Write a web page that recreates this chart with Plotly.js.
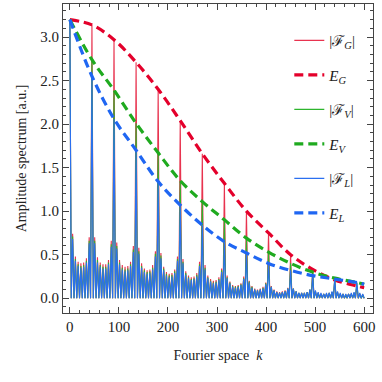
<!DOCTYPE html>
<html lang="en">
<head>
  <meta charset="UTF-8">
  <title>Amplitude spectrum</title>
  <script src="https://cdn.plot.ly/plotly-3.0.1.min.js"></script>
  <style>
    body { margin: 0; background: white; }
    #plot { width: 382px; height: 382px; }
  </style>
</head>
<body>
  <div id="plot"></div>
  <script>
  // Positions of the main peaks in k
  const peakK = [0, 45, 90, 135, 180, 225, 270, 315, 360, 405, 450, 495, 540, 585];

  // Envelope samples (k, value)
  const envK = [0, 45, 90, 135, 180, 225, 270, 315, 360, 405, 450, 495, 540, 585, 600];
  const envG = [3.20, 3.14, 2.97, 2.71, 2.40, 2.04, 1.66, 1.32, 1.00, 0.75, 0.50, 0.33, 0.21, 0.14, 0.12];
  const envV = [3.20, 2.74, 2.39, 2.01, 1.67, 1.35, 1.11, 0.90, 0.69, 0.53, 0.40, 0.30, 0.23, 0.18, 0.16];
  const envL = [3.20, 2.55, 2.06, 1.70, 1.34, 1.07, 0.84, 0.65, 0.52, 0.40, 0.32, 0.26, 0.22, 0.18, 0.16];

  // Main peak heights of each spectrum
  const peaksG = [3.20, 3.14, 2.97, 2.71, 2.40, 2.04, 1.66, 1.32, 1.00, 0.75, 0.50, 0.33, 0.21, 0.14];
  const peaksV = [3.20, 2.74, 2.39, 2.01, 1.67, 1.35, 1.11, 0.90, 0.69, 0.53, 0.40, 0.30, 0.23, 0.18];
  const peaksL = [3.20, 2.55, 2.06, 1.70, 1.34, 1.07, 0.84, 0.65, 0.52, 0.40, 0.32, 0.26, 0.22, 0.18];

  // Side-lobe heights between consecutive main peaks (7 per gap)
  const lobesG = [
    [0.74, 0.48, 0.42, 0.40, 0.41, 0.46, 0.70],
    [0.70, 0.47, 0.41, 0.39, 0.39, 0.44, 0.66],
    [0.64, 0.44, 0.38, 0.36, 0.37, 0.42, 0.60],
    [0.58, 0.40, 0.34, 0.32, 0.33, 0.38, 0.54],
    [0.52, 0.36, 0.30, 0.28, 0.29, 0.33, 0.48],
    [0.45, 0.31, 0.26, 0.24, 0.25, 0.29, 0.42],
    [0.38, 0.26, 0.22, 0.20, 0.21, 0.24, 0.34],
    [0.26, 0.19, 0.15, 0.14, 0.15, 0.17, 0.25],
    [0.20, 0.14, 0.11, 0.10, 0.11, 0.13, 0.18],
    [0.14, 0.10, 0.08, 0.07, 0.08, 0.09, 0.12],
    [0.11, 0.08, 0.06, 0.06, 0.06, 0.07, 0.10],
    [0.08, 0.06, 0.05, 0.05, 0.05, 0.06, 0.07],
    [0.07, 0.05, 0.05, 0.04, 0.05, 0.05, 0.06]
  ];
  const lobesV = [
    [0.71, 0.45, 0.39, 0.37, 0.38, 0.43, 0.66],
    [0.66, 0.44, 0.38, 0.36, 0.36, 0.41, 0.62],
    [0.60, 0.41, 0.35, 0.33, 0.34, 0.39, 0.56],
    [0.54, 0.37, 0.32, 0.30, 0.31, 0.35, 0.51],
    [0.49, 0.34, 0.28, 0.26, 0.27, 0.31, 0.45],
    [0.42, 0.29, 0.24, 0.22, 0.23, 0.27, 0.39],
    [0.35, 0.24, 0.20, 0.18, 0.19, 0.22, 0.32],
    [0.24, 0.18, 0.14, 0.13, 0.14, 0.16, 0.23],
    [0.19, 0.13, 0.10, 0.09, 0.10, 0.12, 0.17],
    [0.13, 0.09, 0.07, 0.06, 0.07, 0.08, 0.11],
    [0.11, 0.08, 0.06, 0.06, 0.06, 0.07, 0.10],
    [0.08, 0.06, 0.05, 0.05, 0.05, 0.06, 0.07],
    [0.07, 0.05, 0.05, 0.04, 0.05, 0.05, 0.06]
  ];
  const lobesL = [
    [0.68, 0.43, 0.37, 0.35, 0.36, 0.41, 0.63],
    [0.63, 0.41, 0.36, 0.34, 0.34, 0.39, 0.59],
    [0.57, 0.39, 0.33, 0.31, 0.32, 0.37, 0.53],
    [0.51, 0.35, 0.30, 0.28, 0.29, 0.33, 0.48],
    [0.46, 0.32, 0.26, 0.24, 0.25, 0.29, 0.43],
    [0.40, 0.27, 0.23, 0.21, 0.22, 0.25, 0.37],
    [0.33, 0.23, 0.19, 0.17, 0.18, 0.21, 0.30],
    [0.23, 0.17, 0.13, 0.12, 0.13, 0.15, 0.22],
    [0.18, 0.12, 0.10, 0.09, 0.10, 0.11, 0.16],
    [0.13, 0.09, 0.07, 0.06, 0.07, 0.08, 0.11],
    [0.11, 0.08, 0.06, 0.06, 0.06, 0.07, 0.10],
    [0.09, 0.07, 0.06, 0.05, 0.06, 0.06, 0.08],
    [0.08, 0.06, 0.05, 0.05, 0.05, 0.06, 0.07]
  ];
  // Lobes after the last main peak, up to k = 600
  const tailG = [0.05, 0.04];
  const tailV = [0.05, 0.04];
  const tailL = [0.06, 0.05];

  // Turn peaks + lobes into a polyline (zeros between lobes)
  function spectrum(peaks, lobes, tail) {
    const x = [], y = [];
    for (let i = 0; i < peakK.length; i++) {
      x.push(peakK[i]); y.push(peaks[i]);
      const seg = i < lobes.length ? lobes[i] : tail;
      const step = i < lobes.length ? (peakK[i + 1] - peakK[i]) / (seg.length + 1) : (600 - peakK[i]) / (seg.length + 0.5);
      x.push(peakK[i] + step * 0.5); y.push(0);
      seg.forEach((v, j) => {
        x.push(peakK[i] + step * (j + 1)); y.push(v);
        x.push(peakK[i] + step * (j + 1.5)); y.push(0);
      });
    }
    return { x, y };
  }

  const sG = spectrum(peaksG, lobesG, tailG);
  const sV = spectrum(peaksV, lobesV, tailV);
  const sL = spectrum(peaksL, lobesL, tailL);

  const red = '#e4002b', green = '#1faa1f', blue = '#1f66f2';
  const dash = '9px,5px';

  const data = [
    { x: sG.x, y: sG.y, mode: 'lines', name: '|ℱ<sub><i>G</i></sub>|', legendgroup: 'a',
      line: { color: '#e8334f', width: 1.1 } },
    { x: envK, y: envG, mode: 'lines', name: '<i>E</i><sub><i>G</i></sub>', legendgroup: 'b',
      line: { color: red, width: 3.2, dash: dash, shape: 'spline' } },
    { x: sV.x, y: sV.y, mode: 'lines', name: '|ℱ<sub><i>V</i></sub>|', legendgroup: 'c',
      line: { color: '#2db52d', width: 1.1 } },
    { x: envK, y: envV, mode: 'lines', name: '<i>E</i><sub><i>V</i></sub>', legendgroup: 'd',
      line: { color: green, width: 3.2, dash: dash, shape: 'spline' } },
    { x: sL.x, y: sL.y, mode: 'lines', name: '|ℱ<sub><i>L</i></sub>|', legendgroup: 'e',
      line: { color: '#2b6ff0', width: 1.1 } },
    { x: envK, y: envL, mode: 'lines', name: '<i>E</i><sub><i>L</i></sub>', legendgroup: 'f',
      line: { color: blue, width: 3.2, dash: dash, shape: 'spline' } }
  ];

  const axisCommon = {
    showline: true, linecolor: '#444', linewidth: 1, mirror: 'allticks',
    ticks: 'inside', ticklen: 6, tickcolor: '#444', tickwidth: 1,
    showgrid: false, zeroline: false,
    tickfont: { family: 'Liberation Serif', size: 15, color: '#222' }
  };

  const layout = {
    width: 382, height: 382,
    margin: { l: 63, r: 9, t: 4, b: 69 },
    paper_bgcolor: 'white', plot_bgcolor: 'white',
    font: { family: 'Liberation Serif', color: '#222' },
    showlegend: true,
    legend: {
      x: 0.73, y: 0.935, xanchor: 'left', yanchor: 'top',
      bgcolor: 'rgba(0,0,0,0)', tracegroupgap: 12,
      font: { family: 'Liberation Serif', size: 15, color: '#222' }
    },
    xaxis: Object.assign({}, axisCommon, {
      range: [-14, 618], tickvals: [0, 100, 200, 300, 400, 500, 600],
      minor: { dtick: 20, tick0: 0, ticks: 'inside', ticklen: 3, tickcolor: '#444' },
      title: { text: 'Fourier space  <i>k</i>', standoff: 16,
               font: { family: 'Liberation Serif', size: 14, color: '#222' } }
    }),
    yaxis: Object.assign({}, axisCommon, {
      range: [-0.17, 3.38], dtick: 0.5, tick0: 0, tickformat: '.1f',
      minor: { dtick: 0.1, tick0: 0, ticks: 'inside', ticklen: 3, tickcolor: '#444' },
      title: { text: 'Amplitude spectrum [a.u.]', standoff: 10,
               font: { family: 'Liberation Serif', size: 14, color: '#222' } }
    })
  };

  Plotly.newPlot('plot', data, layout, { displayModeBar: false, staticPlot: true });
  </script>
</body>
</html>
